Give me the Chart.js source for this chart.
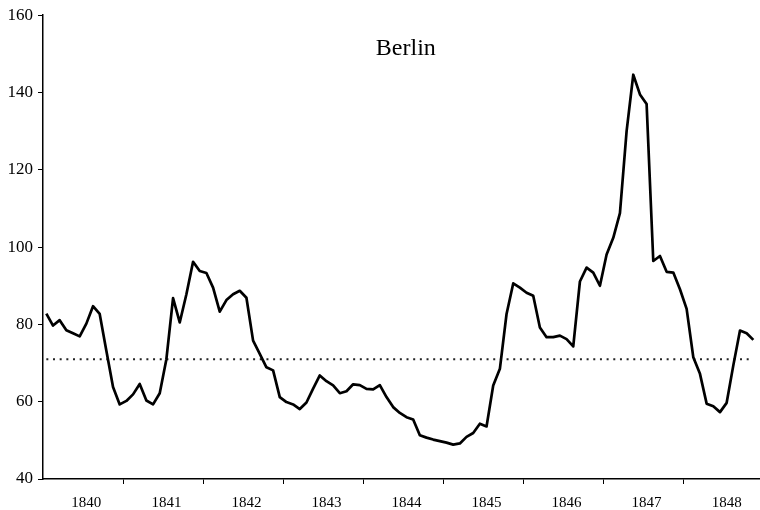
<!DOCTYPE html>
<html>
<head>
<meta charset="utf-8">
<script src="https://cdn.jsdelivr.net/npm/chart.js@4/dist/chart.umd.min.js"></script>
<style>
  body { margin: 0; background: #fff; }
  #wrap { width: 760px; height: 510px; }
</style>
</head>
<body>
<div id="wrap"><canvas id="chart" width="760" height="510"></canvas></div>
<script>
// --- DATA (monthly index) ---
const years = [1840, 1841, 1842, 1843, 1844, 1845, 1846, 1847, 1848];
const berlin = [
    82.8, 79.7, 81.1, 78.5, 77.7, 76.9, 80.2, 84.7, 82.7, 73.2, 63.8, 59.3,
    60.2, 61.9, 64.6, 60.3, 59.3, 62.2, 71.0, 86.8, 80.5, 87.8, 96.2, 93.8,
    93.3, 89.5, 83.3, 86.3, 87.8, 88.7, 86.9, 75.8, 72.4, 68.9, 68.1, 61.2,
    59.9, 59.3, 58.1, 59.8, 63.4, 66.8, 65.3, 64.2, 62.2, 62.7, 64.5, 64.3,
    63.3, 63.2, 64.3, 61.2, 58.6, 57.1, 56.0, 55.4, 51.3, 50.7, 50.2, 49.8,
    49.4, 48.9, 49.2, 50.9, 51.9, 54.3, 53.6, 64.2, 68.5, 82.7, 90.6, 89.5,
    88.2, 87.4, 79.2, 76.7, 76.7, 77.1, 76.2, 74.3, 91.1, 94.7, 93.4, 90.0,
    98.1, 102.4, 108.8, 130.0, 144.6, 139.5, 137.0, 96.4, 97.7, 93.6, 93.4, 89.1,
    84.0, 71.5, 67.2, 59.5, 58.8, 57.3, 59.7, 69.4, 78.4, 77.7, 76.0
];
const meanLevel = 71;
const yTicks = [40, 60, 80, 100, 120, 140, 160];
const titleText = 'Berlin';

const serif = "'Liberation Serif', 'Times New Roman', serif";

// points sit in the middle of each month
const linePoints = berlin.map((v, i) => ({ x: i + 0.5, y: v }));
const meanPoints = [
    { x: 0.5, y: meanLevel },
    { x: berlin.length - 0.5, y: meanLevel }
];

// ticks: year boundaries get a mark, mid-year gets the label
function yearTicks(scale) {
    const t = [];
    years.forEach((yr, k) => {
        t.push({ value: k * 12 + 6.5 });
        if (k < years.length - 1) t.push({ value: (k + 1) * 12 });
    });
    scale.ticks = t;
}

const titlePlugin = {
    id: 'insideTitle',
    afterDraw(chart) {
        const { ctx, chartArea } = chart;
        ctx.save();
        ctx.fillStyle = '#000';
        ctx.font = "24px " + serif;
        ctx.textAlign = 'center';
        ctx.textBaseline = 'middle';
        ctx.fillText(titleText, chartArea.left + (chartArea.right - chartArea.left) * 0.506, chartArea.top + 34);
        ctx.restore();
    }
};

new Chart(document.getElementById('chart'), {
    type: 'line',
    data: {
        datasets: [
            {
                data: linePoints,
                borderColor: '#000',
                borderWidth: 2.7,
                pointRadius: 0,
                tension: 0,
                borderJoinStyle: 'round'
            },
            {
                data: meanPoints,
                borderColor: '#222',
                borderWidth: 2,
                borderDash: [2, 4.67],
                pointRadius: 0
            }
        ]
    },
    options: {
        responsive: false,
        animation: false,
        layout: { padding: { top: 13, right: 0, bottom: 0, left: 0 } },
        plugins: {
            legend: { display: false },
            tooltip: { enabled: false }
        },
        scales: {
            x: {
                type: 'linear',
                min: 0,
                max: 107.5,
                afterBuildTicks: yearTicks,
                afterFit: s => { s.height = 31; },
                border: { display: true, color: '#000', width: 1.5 },
                grid: {
                    drawOnChartArea: false,
                    drawTicks: true,
                    tickLength: 5,
                    tickColor: ctx => (ctx.tick && ctx.tick.value % 12 === 0) ? '#000' : 'rgba(0,0,0,0)'
                },
                ticks: {
                    autoSkip: false,
                    maxRotation: 0,
                    padding: 10,
                    color: '#000',
                    font: { family: serif, size: 15 },
                    callback: v => (v % 12 === 6.5) ? String(years[(v - 6.5) / 12]) : ''
                }
            },
            y: {
                min: 40,
                max: 160,
                afterBuildTicks: s => { s.ticks = yTicks.map(v => ({ value: v })); },
                afterFit: s => { s.width = 43; },
                border: { display: true, color: '#000', width: 1.5 },
                grid: {
                    drawOnChartArea: false,
                    drawTicks: true,
                    tickLength: 5,
                    tickColor: '#000'
                },
                ticks: {
                    padding: 5,
                    color: '#000',
                    font: { family: serif, size: 17 }
                }
            }
        }
    },
    plugins: [titlePlugin]
});
</script>
</body>
</html>
